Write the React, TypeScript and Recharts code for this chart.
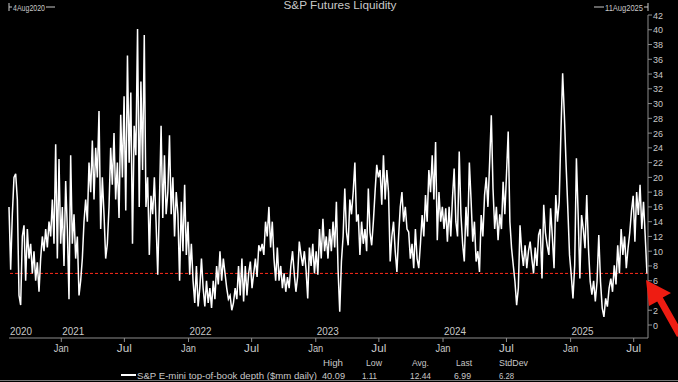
import React from 'react';
import { LineChart, Line, XAxis, YAxis, ReferenceLine } from 'recharts';

// each block of readings is spread evenly between its start date and the next one
const blockStarts = ['2020-08-04', '2021-06-06', '2022-04-06', '2023-02-05', '2023-12-01', '2024-10-06', '2025-08-08'];

const depthAug20 = [
  16, 7.5, 15, 20, 20.5, 17, 4, 2.7,
  12, 13.5, 6, 13, 9, 11, 7, 10, 6, 8.5,
  4.5, 9, 12, 10, 13, 10.5, 14,
  12, 17, 11, 24.5, 9, 22.5, 11,
  16, 8, 19.5, 13, 3.5, 23, 11, 15, 9,
  12, 4, 6, 9, 14, 17, 14, 22, 18,
  25, 17, 24, 20, 29, 13, 20, 15, 9,
  11, 16, 24, 19, 26,
];
const depthJun21 = [
  17, 22, 14.5, 28.5, 20, 31, 15.5, 36.5,
  22, 31.5, 11, 27, 23, 40.09,
  16, 33, 21, 39.3, 16, 20, 9.5, 17.5, 15, 20,
  14, 6.8, 16.5, 27, 14.5, 23, 15, 18, 25.7,
  15, 20, 12, 18, 15, 6, 16.7, 10, 19,
  9.5, 14, 6.8, 11, 6, 3, 8, 2.5, 5, 9,
  5, 2.5, 6, 3, 5, 2.3, 6, 3.5, 8, 5.5, 10,
];
const depthApr22 = [
  6, 9, 7, 5, 3.5, 4, 2, 3,
  5, 3.5, 8, 4, 9, 3.2, 8, 4, 7, 8.6, 5,
  7, 9, 6.5, 10.8, 10, 11, 9.5, 14,
  12, 16, 10.5, 14, 9, 6, 10.5, 6, 8,
  5, 7, 4.5, 6.5, 5, 8, 10, 7, 4.5, 6.5,
  11.3, 9.5, 8, 10, 7.5, 3.6, 10.5, 8, 11, 7, 10, 6.8,
  13, 9, 14.4, 10, 12,
];
const depthFeb23 = [
  9, 13, 10, 14, 10.5, 16.7, 7.5, 1.8, 8.6,
  12, 18.5, 12.6, 10.8, 17, 15, 18, 22, 14,
  15, 9.5, 14, 11, 13, 10, 18.5, 12.5, 10.8, 14,
  18, 21.7, 20, 21, 16.3, 23, 17, 21, 18, 8.6, 12,
  14, 10, 7.2, 12, 16, 18, 14, 16, 13,
  12.6, 9, 11, 7.7, 13, 9, 7.7, 11, 14.9, 12,
  17.6, 14, 21, 18,
];
const depthDec23 = [
  23, 17, 24.8, 11.5, 18, 14, 16,
  13, 15.8, 11.3, 16, 12, 17.2, 21.2, 14,
  12, 23.5, 15, 11, 8.6, 16, 12, 22, 17,
  11.3, 14, 8.6, 10, 7.2, 14.9, 12, 17.6,
  20, 16, 22, 28.4, 18.5, 13, 16, 11.5, 15, 13,
  19.4, 15, 20.5, 26.2, 14, 10.4, 8.1, 5.9, 2.7, 5,
  13.5, 10, 8, 10.8, 7.7, 10, 11.3, 9, 7, 10.5, 8, 12.2,
];
const depthOct24 = [
  13, 6.3, 16.3, 12.5, 10.8, 9.5, 15.8, 12, 7.7,
  17.6, 14, 16.7, 26.2, 34.1, 28.4, 21.7, 15.8, 9.5,
  6.8, 3.6, 8.1, 22.6, 15, 6.3, 14.9, 13, 10.4,
  17.6, 10.4, 5.9, 4.1, 6, 3.2, 5.9, 12.2, 5.9, 2.3,
  1.11, 3.6, 2.5, 5, 6.3, 4.5, 8.1, 5.5,
  10.8, 7, 13, 9.5, 12, 7.7, 10.4, 12.5,
  15.4, 17.5, 11.3, 18, 14.9, 19, 13, 16.7, 12, 6.99,
];
const blocks = [depthAug20, depthJun21, depthApr22, depthFeb23, depthDec23, depthOct24];

const monthTicks = [
  '2021-01-01', '2021-07-01', '2022-01-01', '2022-07-01', '2023-01-01', '2023-07-01',
  '2024-01-01', '2024-07-01', '2025-01-01', '2025-07-01',
];
const yTicks = [0, 2, 4, 6, 8, 10, 12, 14, 16, 18, 20, 22, 24, 26, 28, 30, 32, 34, 36, 38, 40, 42];

const statNames = ['High', 'Low', 'Avg.', 'Last', 'StdDev'];
const statValues = ['40.09', '1.11', '12.44', '6.99', '6.28'];
const lastValue = 6.99;

const xStart = Date.parse('2020-08-04');
const xEnd = Date.parse('2025-08-11');

const data: { t: number; depth: number }[] = [];
blocks.forEach((vals, b) => {
  const t0 = Date.parse(blockStarts[b]);
  const t1 = Date.parse(blockStarts[b + 1]);
  const isLast = b === blocks.length - 1;
  const step = (t1 - t0) / (isLast ? vals.length - 1 : vals.length);
  vals.forEach((v, i) => data.push({ t: t0 + i * step, depth: v }));
});

const FONT = "'Liberation Sans', Arial, sans-serif";
const AXIS = '#8c8c8c';
const TEXT = '#c8c8c8';
const MONTHS = ['Jan', 'Feb', 'Mar', 'Apr', 'May', 'Jun', 'Jul', 'Aug', 'Sep', 'Oct', 'Nov', 'Dec'];

// narrow text: squeeze to the width the reference uses
const Narrow = ({ x, y, w, anchor, size = 9.5, children }: any) => (
  <text
    x={x}
    y={y}
    textAnchor={anchor || 'start'}
    textLength={w}
    lengthAdjust="spacingAndGlyphs"
    fill={TEXT}
    fontSize={size}
    fontFamily={FONT}
  >
    {children}
  </text>
);

const TimeTick = (props: any) => {
  const { x, y, payload } = props;
  const d = new Date(payload.value);
  const isStart = payload.value === xStart;
  const mon = MONTHS[d.getUTCMonth()];
  return (
    <g>
      {!isStart && <line x1={x} x2={x} y1={y} y2={y + 4} stroke={AXIS} />}
      {!isStart && (
        <Narrow x={x} y={y + 14} w={15} anchor="middle" size={10}>
          {mon}
        </Narrow>
      )}
      {(isStart || mon === 'Jan') && (
        <Narrow x={x + 1} y={y - 3} w={22} size={10}>
          {d.getUTCFullYear()}
        </Narrow>
      )}
    </g>
  );
};

const YTick = (props: any) => {
  const { x, y, payload } = props;
  const w = String(payload.value).length * 5;
  return (
    <Narrow x={x} y={y + 3.5} w={w} size={9.5}>
      {payload.value}
    </Narrow>
  );
};

const App = () => {
  const xTicks = [xStart, ...monthTicks.map((m) => Date.parse(m))];
  return (
    <div style={{ position: 'fixed', left: 0, top: 0, width: 678, height: 382, background: '#000', overflow: 'hidden' }}>
      <LineChart width={678} height={382} data={data} margin={{ top: 15, right: 0, bottom: 0, left: 9 }}>
        <XAxis
          xAxisId="main"
          dataKey="t"
          type="number"
          scale="time"
          domain={[xStart, xEnd]}
          ticks={xTicks}
          interval={0}
          height={44}
          tickSize={0}
          tickMargin={0}
          tickLine={false}
          axisLine={{ stroke: AXIS }}
          tick={<TimeTick />}
        />
        <XAxis
          xAxisId="top"
          orientation="top"
          dataKey="t"
          type="number"
          domain={[xStart, xEnd]}
          height={0}
          tick={false}
          tickLine={false}
          axisLine={{ stroke: AXIS }}
        />
        <YAxis
          yAxisId="left"
          orientation="left"
          width={0}
          domain={[-1.76, 42]}
          tick={false}
          tickLine={false}
          axisLine={{ stroke: AXIS }}
        />
        <YAxis
          yAxisId="right"
          orientation="right"
          width={30}
          domain={[-1.76, 42]}
          ticks={yTicks}
          interval={0}
          tickSize={4}
          tickMargin={1}
          tickLine={{ stroke: AXIS }}
          axisLine={{ stroke: AXIS }}
          tick={<YTick />}
        />
        <ReferenceLine xAxisId="main" yAxisId="right" y={lastValue} stroke="#ff2a1a" strokeWidth={1} strokeDasharray="3 2" />
        <Line
          xAxisId="main"
          yAxisId="right"
          dataKey="depth"
          type="linear"
          stroke="#ffffff"
          strokeWidth={1.5}
          dot={false}
          isAnimationActive={false}
        />
      </LineChart>

      <svg width={678} height={382} style={{ position: 'absolute', left: 0, top: 0, pointerEvents: 'none' }}>
        <Narrow x={340} y={9} w={113} anchor="middle" size={11}>
          S&amp;P Futures Liquidity
        </Narrow>

        <line x1={9} x2={9} y1={3} y2={11} stroke={TEXT} />
        <line x1={9} x2={12} y1={7} y2={7} stroke={TEXT} />
        <Narrow x={13} y={11} w={32} size={9}>4Aug2020</Narrow>
        <line x1={46} x2={55} y1={7} y2={7} stroke={TEXT} />

        <line x1={594} x2={604} y1={7} y2={7} stroke={TEXT} />
        <Narrow x={605} y={11} w={38} size={9}>11Aug2025</Narrow>
        <line x1={644} x2={648} y1={7} y2={7} stroke={TEXT} />
        <line x1={648} x2={648} y1={3} y2={11} stroke={TEXT} />

        <line x1={121} x2={136} y1={375} y2={375} stroke="#fff" strokeWidth={2} />
        <Narrow x={137} y={379} w={180} size={9}>
          S&amp;P E-mini top-of-book depth ($mm daily)
        </Narrow>
        {statNames.map((s, i) => (
          <Narrow key={s} x={[323, 366, 412, 456, 499][i]} y={366} w={[20, 16, 17, 16, 29][i]}>
            {s}
          </Narrow>
        ))}
        {statValues.map((s, i) => (
          <Narrow key={i} x={[322, 362, 410, 454, 499][i]} y={379} w={[23, 15, 21, 17, 15][i]}>
            {s}
          </Narrow>
        ))}

        <line x1={0} x2={678} y1={380.5} y2={380.5} stroke="#777" />

        <polygon points="646,280 671,293 662.8,297.5 683,333 677,337 657.2,301.5 649,306" fill="#ee1c12" />
      </svg>
    </div>
  );
};

export default App;
